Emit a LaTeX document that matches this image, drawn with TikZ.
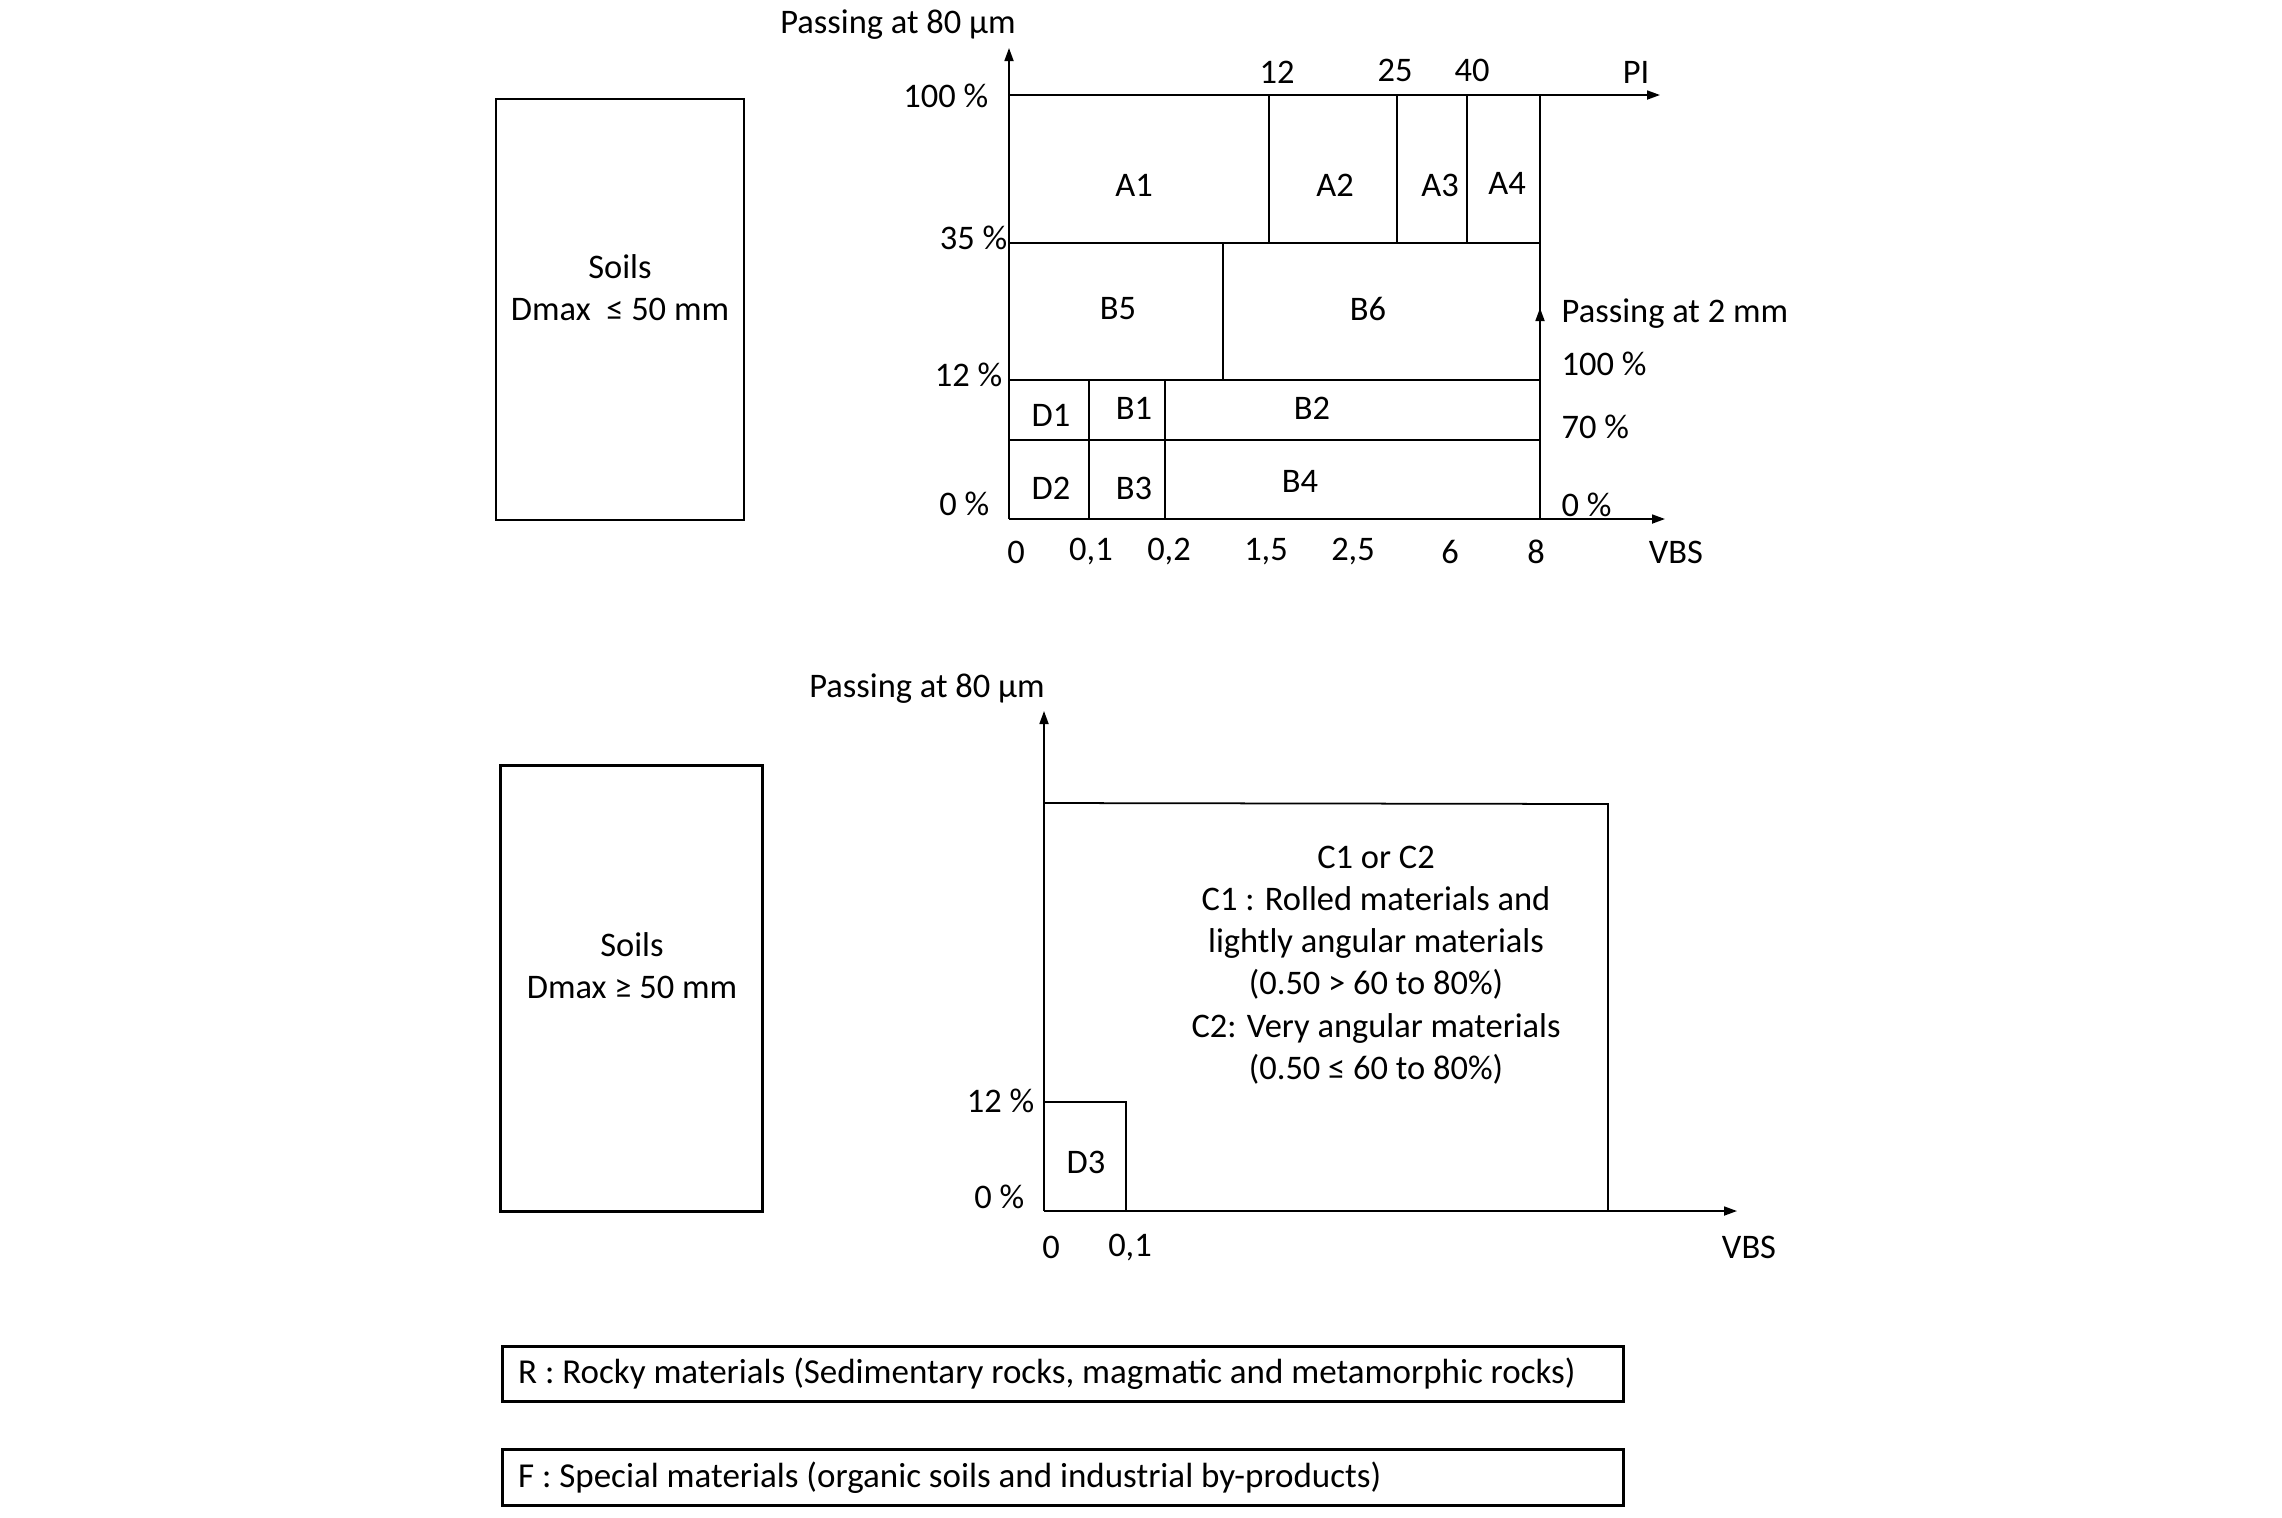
\documentclass[tikz,border=0pt]{standalone}
\usepackage{fontspec}
\setmainfont{Carlito}
\usetikzlibrary{arrows.meta, positioning}

\begin{document}
\begin{tikzpicture}[x=0.01cm, y=-0.01cm,
      lbl/.style={font=\fontsize{9.8}{12}\selectfont, inner sep=0pt, align=center},
      soil/.style={draw, line width=0.8pt, inner sep=0pt},
      key/.style={draw, line width=0.8pt, font=\fontsize{9.95}{12}\selectfont, inner xsep=0.16cm, inner ysep=0pt, minimum width=11.21cm, minimum height=0.557cm, anchor=west},
      ln/.style={line width=0.5pt},
      ax/.style={line width=0.5pt, -{Triangle[length=1.3mm, width=0.9mm]}},
    ]
    \useasboundingbox (0,0) rectangle (2282,1517);
    % soil boxes
    \node[soil, minimum width=2.477cm, minimum height=4.206cm] (soilA) at (620,309.5) {};
    \node[lbl] (soilAtxt) at (620,288) {Soils\\Dmax\ \ ≤ 50 mm};
    \node[soil, minimum width=2.619cm, minimum height=4.455cm] (soilB) at (631.6,988.2) {};
    \node[lbl] (soilBtxt) at (632,966) {Soils\\Dmax ≥ 50 mm};
    % upper chart
    \coordinate (o1) at (1009,519);
    \coordinate (ytop1) at (1009,48);
    \coordinate (xend1) at (1665,519);
    \coordinate (pi0) at (1009,95);
    \coordinate (piend) at (1660,95);
    \coordinate (r100) at (1540,95);
    \coordinate (r0) at (1540,519);
    \coordinate (r2mm) at (1540,308);
    \draw[ax] (o1) -- (ytop1);
    \draw[ax] (o1) -- (xend1);
    \draw[ax] (pi0) -- (piend);
    \draw[ln] (r100) -- (r0);
    \draw[ax] (r0) -- (r2mm);
    \draw[ln] (1009,243) -- (1540,243);
    \draw[ln] (1009,380) -- (1540,380);
    \draw[ln] (1009,440) -- (1540,440);
    \draw[ln] (1269,95) -- (1269,243);
    \draw[ln] (1397,95) -- (1397,243);
    \draw[ln] (1467,95) -- (1467,243);
    \draw[ln] (1223,243) -- (1223,380);
    \draw[ln] (1089,380) -- (1089,519);
    \draw[ln] (1165,380) -- (1165,519);
    \node[lbl] (ttl1) at (898,25) {Passing at 80 µm};
    \node[lbl, anchor=east] (p100) at (989,96) {100 \%};
    \node[lbl, anchor=east] (p35) at (1008,238) {35 \%};
    \node[lbl, anchor=east] (p12) at (1003,375) {12 \%};
    \node[lbl, anchor=east] (p0) at (990,504) {0 \%};
    \node[lbl] (pi12) at (1277,72) {12};
    \node[lbl] (pi25) at (1395,70) {25};
    \node[lbl] (pi40) at (1472,70) {40};
    \node[lbl] (pilbl) at (1636,72) {PI};
    \node[lbl] (a1) at (1134,185) {A1};
    \node[lbl] (a2) at (1335,185) {A2};
    \node[lbl] (a3) at (1440,185) {A3};
    \node[lbl] (a4) at (1507,183) {A4};
    \node[lbl] (b5) at (1118,309) {B5};
    \node[lbl] (b6) at (1368,309) {B6};
    \node[lbl] (d1) at (1051,415) {D1};
    \node[lbl] (b1) at (1134,408) {B1};
    \node[lbl] (b2) at (1312,408) {B2};
    \node[lbl] (d2) at (1051,488) {D2};
    \node[lbl] (b3) at (1134,488) {B3};
    \node[lbl] (b4) at (1300,481) {B4};
    \node[lbl, anchor=west] (pass2) at (1561,314) {Passing at 2 mm};
    \node[lbl, anchor=west] (q100) at (1561,364) {100 \%};
    \node[lbl, anchor=west] (q70) at (1561,427) {70 \%};
    \node[lbl, anchor=west] (q0) at (1561,505) {0 \%};
    \node[lbl] (v0) at (1016,552) {0};
    \node[lbl] (v01) at (1091,552) {0,1};
    \node[lbl] (v02) at (1169,552) {0,2};
    \node[lbl] (v15) at (1266,552) {1,5};
    \node[lbl] (v25) at (1353,552) {2,5};
    \node[lbl] (v6) at (1450,552) {6};
    \node[lbl] (v8) at (1536,552) {8};
    \node[lbl] (vbs1) at (1676,552) {VBS};
    % lower chart
    \coordinate (o2) at (1044,1211);
    \coordinate (ytop2) at (1044,711);
    \coordinate (xend2) at (1737,1211);
    \coordinate (ctl) at (1044,803);
    \coordinate (ctr) at (1608,804);
    \coordinate (cbr) at (1608,1211);
    \coordinate (dtl) at (1044,1102);
    \coordinate (dtr) at (1126,1102);
    \coordinate (dbr) at (1126,1211);
    \draw[ax] (o2) -- (ytop2);
    \draw[ax] (o2) -- (xend2);
    \draw[ln] (ctl) -- (ctr) -- (cbr);
    \draw[ln] (dtl) -- (dtr) -- (dbr);
    \node[lbl] (ttl2) at (927,689) {Passing at 80 µm};
    \node[lbl, anchor=east] (s12) at (1035,1101) {12 \%};
    \node[lbl, anchor=east] (s0) at (1025,1197) {0 \%};
    \node[lbl] (w0) at (1051,1247) {0};
    \node[lbl] (w01) at (1130,1247) {0,1};
    \node[lbl] (vbs2) at (1749,1247) {VBS};
    \node[lbl] (d3) at (1086,1162) {D3};
    \node[lbl] (cgrp) at (1376,965) {C1 or C2\\C1 : Rolled materials and\\lightly angular materials\\(0.50 > 60 to 80\%)\\C2: Very angular materials\\(0.50 ≤ 60 to 80\%)};
    % key boxes
    \node[key] (rocky) at (500.7,1374) {\makebox[10.89cm][l]{R : Rocky materials (Sedimentary rocks, magmatic and metamorphic rocks)}};
    \node[key] (special) at (500.7,1477.5) {\makebox[10.89cm][l]{F : Special materials (organic soils and industrial by-products)}};
  \end{tikzpicture}
\end{document}
